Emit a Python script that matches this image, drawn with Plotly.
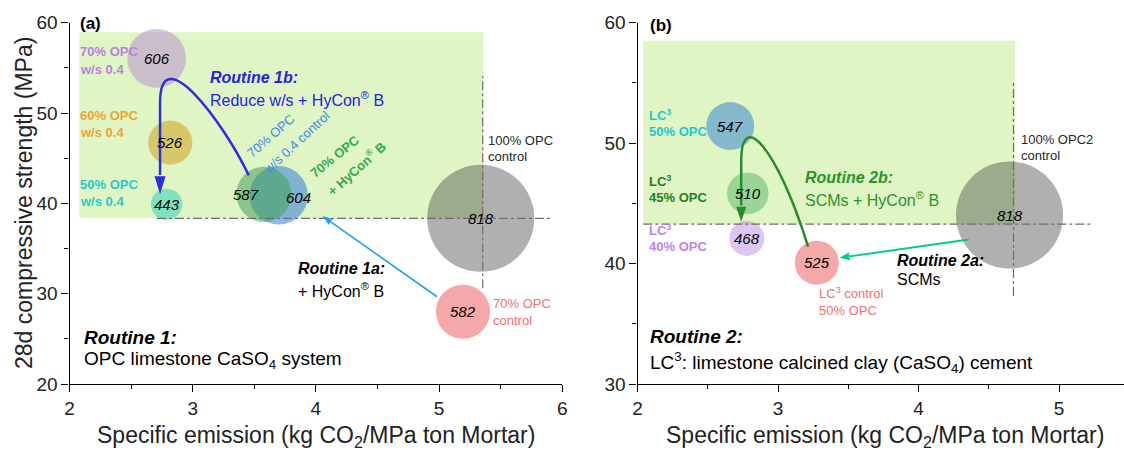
import math
import plotly.graph_objects as go

# ---------------- data ----------------
# Panel (a): Routine 1 - OPC limestone CaSO4 system
a_label = [818, 582, 606, 526, 443, 604, 587]          # bubble label (kg CO2 / ton)
a_emission = [5.338, 5.194, 2.707, 2.818, 2.788, 3.698, 3.578]
a_strength = [38.34, 28.0, 56.05, 46.72, 39.89, 40.89, 41.0]

# Panel (b): Routine 2 - LC3
b_label = [818, 525, 547, 510, 468]
b_emission = [4.648, 3.276, 2.66, 2.785, 2.778]
b_strength = [44.03, 40.07, 51.42, 45.83, 42.09]

a_xticks = [2, 3, 4, 5, 6]
a_xminor = [2.5, 3.5, 4.5, 5.5]
a_yticks = [20, 30, 40, 50, 60]
a_yminor = [25, 35, 45, 55]
b_xticks = [2, 3, 4, 5]
b_xminor = [2.5, 3.5, 4.5]
b_yticks = [30, 40, 50, 60]
b_yminor = [35, 45, 55]

# ---------------- styles ----------------
FONT = "Liberation Sans, Arial, sans-serif"
W, H = 1124, 450
TOP, BOT = 22.7, 384.0
AX0, AX1 = 69.5, 562.3
BX0, BX1 = 637.5, 1124.0
A_XR = [2, 6]
B_XR = [2, 2 + (BX1 - BX0) / 140.5]
A_YR = [20, 60]
B_YR = [30, 60]
kxa = (AX1 - AX0) / (A_XR[1] - A_XR[0])
kya = (BOT - TOP) / (A_YR[1] - A_YR[0])
kxb = (BX1 - BX0) / (B_XR[1] - B_XR[0])
kyb = (BOT - TOP) / (B_YR[1] - B_YR[0])

GREY = "rgba(50,50,50,0.55)"
RED = "rgba(238,100,100,0.8)"
A_COLORS = [GREY, RED, "rgba(178,125,212,0.66)", "rgba(205,160,20,0.75)",
            "rgba(40,210,190,0.75)", "rgba(56,126,220,0.8)", "rgba(65,162,86,0.78)"]
B_COLORS = [GREY, RED, "rgba(50,130,210,0.75)", "rgba(80,180,100,0.7)",
            "rgba(180,130,225,0.65)"]
A_LABEL_SHIFT = [(0, 0), (0, 0), (0, 0), (0, 0), (0, 0), (20, -2), (-18, 0)]
B_LABEL_SHIFT = [(0, 0)] * 5


def bubble(v):
    return 2 * v * v / 12500.0


fig = go.Figure()
fig.add_trace(go.Scatter(
    x=a_emission, y=a_strength, mode="markers", xaxis="x", yaxis="y",
    marker=dict(size=[bubble(v) for v in a_label], color=A_COLORS, line=dict(width=0)),
    hoverinfo="skip", showlegend=False))
fig.add_trace(go.Scatter(
    x=b_emission, y=b_strength, mode="markers", xaxis="x2", yaxis="y2",
    marker=dict(size=[bubble(v) for v in b_label], color=B_COLORS, line=dict(width=0)),
    hoverinfo="skip", showlegend=False))

ann = []
shapes = []


def txt(p, x, y, s, size, color, anchor="left", angle=0):
    xr, yr = ("x", "y") if p == "a" else ("x2", "y2")
    ann.append(dict(x=x, y=y, xref=xr, yref=yr, text=s, showarrow=False,
                    font=dict(size=size, color=color, family=FONT),
                    xanchor=anchor, yanchor="middle", textangle=angle))


# bubble value labels
for xs, ys, ls, sh, p in [(a_emission, a_strength, a_label, A_LABEL_SHIFT, "a"),
                          (b_emission, b_strength, b_label, B_LABEL_SHIFT, "b")]:
    xr, yr = ("x", "y") if p == "a" else ("x2", "y2")
    for x, y, v, (dx, dy) in zip(xs, ys, ls, sh):
        ann.append(dict(x=x, y=y, xref=xr, yref=yr, text=f"<i>{v}</i>", showarrow=False,
                        font=dict(size=15, color="black", family=FONT),
                        xanchor="center", yanchor="middle", xshift=dx, yshift=dy))

# ----- panel a texts -----
PURPLE_T = "rgb(185,130,225)"
ORANGE_T = "rgb(235,165,50)"
TEAL_T = "rgb(30,205,200)"
BLUE_T = "rgb(35,35,230)"
SBLUE_T = "rgb(60,140,230)"
GREEN_T = "rgb(50,170,80)"
SALMON_T = "rgb(245,110,110)"
DARK_T = "rgb(40,40,40)"

txt("a", 2.07, 59.86, "<b>(a)</b>", 17, "black")
txt("a", 2.07, 56.79, "<b>70% OPC</b>", 13, PURPLE_T)
txt("a", 2.07, 54.87, "<b>w/s 0.4</b>", 13, PURPLE_T)
txt("a", 2.07, 49.7, "<b>60% OPC</b>", 13, ORANGE_T)
txt("a", 2.07, 47.86, "<b>w/s 0.4</b>", 13, ORANGE_T)
txt("a", 2.07, 42.1, "<b>50% OPC</b>", 13, TEAL_T)
txt("a", 2.07, 40.18, "<b>w/s 0.4</b>", 13, TEAL_T)
txt("a", 3.128, 53.91, "<b><i>Routine 1b:</i></b>", 16, BLUE_T)
txt("a", 3.128, 51.55, "Reduce w/s + HyCon<sup>®</sup> B", 16, BLUE_T)
txt("a", 3.639, 47.49, "70% OPC", 13, SBLUE_T, "center", -41)
txt("a", 3.842, 46.76, "w/s 0.4 control", 13, SBLUE_T, "center", -43)
txt("a", 4.154, 45.16, "<b>70% OPC</b>", 13, GREEN_T, "center", -39)
txt("a", 4.33, 43.88, "<b>+ HyCon<sup>®</sup> B</b>", 13, GREEN_T, "center", -42)
txt("a", 5.383, 46.94, "100% OPC", 13, DARK_T)
txt("a", 5.383, 45.17, "control", 13, DARK_T)
txt("a", 3.835, 32.8, "<b><i>Routine 1a:</i></b>", 16, "black")
txt("a", 3.835, 30.4, "+ HyCon<sup>®</sup> B", 16, "black")
txt("a", 5.419, 28.86, "70% OPC", 13, SALMON_T)
txt("a", 5.419, 27.01, "control", 13, SALMON_T)
txt("a", 2.098, 25.16, "<b><i>Routine 1:</i></b>", 19, "black")
txt("a", 2.098, 22.65, "OPC limestone CaSO<sub>4</sub> system", 19, "black")

# ----- panel b texts -----
TEAL_B = "rgb(30,200,210)"
DGREEN_B = "rgb(30,130,30)"
LAV_B = "rgb(190,130,240)"
GREEN_B = "rgb(40,150,40)"
txt("b", 2.077, 59.8, "<b>(b)</b>", 17, "black")
txt("b", 2.069, 52.33, "<b>LC<sup>3</sup></b>", 13, TEAL_B)
txt("b", 2.069, 50.95, "<b>50% OPC</b>", 13, TEAL_B)
txt("b", 2.069, 46.85, "<b>LC<sup>3</sup></b>", 13, DGREEN_B)
txt("b", 2.069, 45.47, "<b>45% OPC</b>", 13, DGREEN_B)
txt("b", 2.069, 42.78, "<b>LC<sup>3</sup></b>", 13, LAV_B)
txt("b", 2.069, 41.4, "<b>40% OPC</b>", 13, LAV_B)
txt("b", 3.181, 47.16, "<b><i>Routine 2b:</i></b>", 16, GREEN_B)
txt("b", 3.181, 45.33, "SCMs + HyCon<sup>®</sup> B", 16, GREEN_B)
txt("b", 3.276, 37.52, "LC<sup>3</sup> control", 13, SALMON_T)
txt("b", 3.276, 36.14, "50% OPC", 13, SALMON_T)
txt("b", 3.833, 40.29, "<b><i>Routine 2a:</i></b>", 16, "black")
txt("b", 3.833, 38.69, "SCMs", 16, "black")
txt("b", 4.712, 50.31, "100% OPC2", 13, DARK_T)
txt("b", 4.712, 48.95, "control", 13, DARK_T)
txt("b", 2.077, 33.92, "<b><i>Routine 2:</i></b>", 19, "black")
txt("b", 2.077, 31.76, "LC<sup>3</sup>: limestone calcined clay (CaSO<sub>4</sub>) cement", 19, "black")

# axis titles
XT = "Specific emission (kg CO<sub>2</sub>/MPa ton Mortar)"
for cx in [(AX0 + AX1) / 2, 885.0]:
    ann.append(dict(x=cx / W, y=1 - 436.0 / H, xref="paper", yref="paper", text=XT,
                    showarrow=False, font=dict(size=23, color="#222", family=FONT),
                    xanchor="center", yanchor="middle"))
ann.append(dict(x=24.0 / W, y=1 - 203.0 / H, xref="paper", yref="paper",
                text="28d compressive strength (MPa)", showarrow=False, textangle=-90,
                font=dict(size=23, color="#222", family=FONT),
                xanchor="center", yanchor="middle"))

# ----- shapes -----
RECT = "rgb(224,245,196)"
shapes.append(dict(type="rect", xref="x", yref="y", x0=2.08, x1=5.359, y0=38.34, y1=58.93,
                   fillcolor=RECT, line=dict(width=0), layer="below"))
shapes.append(dict(type="rect", xref="x2", yref="y2", x0=2.041, x1=4.687, y0=43.28, y1=58.5,
                   fillcolor=RECT, line=dict(width=0), layer="below"))

DD = dict(color="rgb(110,110,110)", width=1.2, dash="dashdot")
shapes.append(dict(type="line", xref="x", yref="y", x0=2.71, x1=5.91, y0=38.34, y1=38.34, line=DD, layer="above"))
shapes.append(dict(type="line", xref="x", yref="y", x0=5.354, x1=5.354, y0=30.59, y1=54.1, line=DD, layer="above"))
shapes.append(dict(type="line", xref="x2", yref="y2", x0=2.041, x1=5.24, y0=43.28, y1=43.28, line=DD, layer="above"))
shapes.append(dict(type="line", xref="x2", yref="y2", x0=4.676, x1=4.676, y0=37.3, y1=55.1, line=DD, layer="above"))


def head(p, tip, ux, uy, L, Wd, color):
    """filled arrowhead; (ux,uy) unit direction towards tip in pixel space (y down)"""
    kx, ky = (kxa, kya) if p == "a" else (kxb, kyb)
    xr, yr = ("x", "y") if p == "a" else ("x2", "y2")
    bx, by = -ux * L, -uy * L
    px, py = -uy, ux
    pts = [(0, 0), (bx + px * Wd / 2, by + py * Wd / 2), (bx - px * Wd / 2, by - py * Wd / 2)]
    d = [(tip[0] + a / kx, tip[1] - b / ky) for a, b in pts]
    path = "M {},{} L {},{} L {},{} Z".format(d[0][0], d[0][1], d[1][0], d[1][1], d[2][0], d[2][1])
    shapes.append(dict(type="path", xref=xr, yref=yr, path=path, fillcolor=color,
                       line=dict(width=0), layer="above"))
    return (tip[0] + bx / kx, tip[1] - by / ky)


def straight(p, tail, tip, L, Wd, width, color):
    kx, ky = (kxa, kya) if p == "a" else (kxb, kyb)
    xr, yr = ("x", "y") if p == "a" else ("x2", "y2")
    dx = (tip[0] - tail[0]) * kx
    dy = -(tip[1] - tail[1]) * ky
    n = math.hypot(dx, dy)
    base = head(p, tip, dx / n, dy / n, L, Wd, color)
    shapes.append(dict(type="line", xref=xr, yref=yr, x0=tail[0], y0=tail[1],
                       x1=base[0], y1=base[1], line=dict(color=color, width=width), layer="above"))


# Routine 1b curved arrow (panel a)
C1B = "rgb(45,45,232)"
base = head("a", (2.735, 41.0), 0, 1, 18, 11, C1B)
shapes.append(dict(type="path", xref="x", yref="y",
                   path="M 3.455,43.1 C 3.25,49 2.73,58.5 2.735,51 L 2.735,{}".format(base[1] + 0.15),
                   line=dict(color=C1B, width=2.5), layer="above"))
# Routine 1a straight arrow
straight("a", (4.983, 29.66), (4.054, 38.59), 10, 7, 1.6, "rgb(30,160,250)")

# Routine 2b curved arrow (panel b)
C2B = "rgb(40,140,40)"
base = head("b", (2.738, 43.47), 0, 1, 15, 10, C2B)
shapes.append(dict(type="path", xref="x2", yref="y2",
                   path="M 3.214,41.4 C 3.0,49.5 2.738,53 2.738,48.5 L 2.738,{}".format(base[1] + 0.1),
                   line=dict(color=C2B, width=2.5), layer="above"))
# Routine 2a straight arrow
straight("b", (4.358, 42.0), (3.438, 40.48), 10, 8, 2, "rgb(0,205,140)")

# ----- axes -----
def axis(domain, rng, ticks, minor, anchor):
    return dict(domain=domain, range=rng, anchor=anchor, showline=True, linecolor="black",
                linewidth=1.3, ticks="outside", ticklen=7, tickwidth=1.3, tickcolor="black",
                tickvals=ticks, ticktext=[str(t) for t in ticks],
                minor=dict(tickvals=minor, ticks="outside", ticklen=4, tickwidth=1.2, tickcolor="black"),
                showgrid=False, zeroline=False, fixedrange=True, automargin=False,
                tickfont=dict(size=19, color="#222", family=FONT))


ydom = [1 - BOT / H, 1 - TOP / H]
fig.update_layout(
    width=W, height=H, margin=dict(l=0, r=0, t=0, b=0),
    paper_bgcolor="white", plot_bgcolor="white", showlegend=False,
    xaxis=axis([AX0 / W, AX1 / W], A_XR, a_xticks, a_xminor, "y"),
    yaxis=axis(ydom, A_YR, a_yticks, a_yminor, "x"),
    xaxis2=axis([BX0 / W, BX1 / W], B_XR, b_xticks, b_xminor, "y2"),
    yaxis2=axis(ydom, B_YR, b_yticks, b_yminor, "x2"),
    annotations=ann, shapes=shapes,
    font=dict(family=FONT),
)

fig.write_html("out.html", config={"displayModeBar": False},
               post_script="document.body.style.margin='0';document.body.style.overflow='hidden';")
